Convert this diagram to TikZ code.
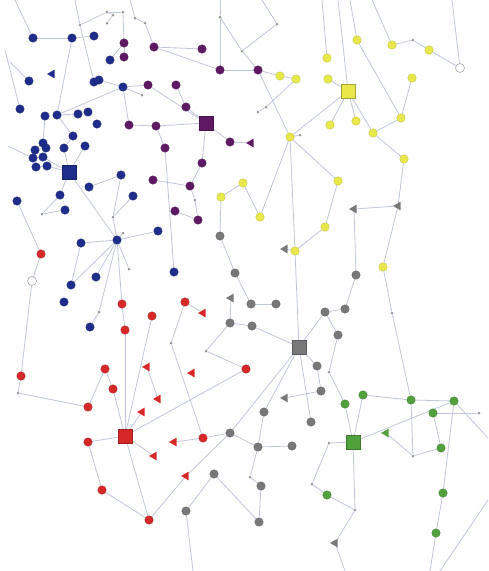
\documentclass[tikz,border=0pt]{standalone}
\usetikzlibrary{shapes.geometric}
\pgfdeclarelayer{background}
\pgfsetlayers{background,main}
\definecolor{cb}{RGB}{30,45,140}
\definecolor{cp}{RGB}{95,25,100}
\definecolor{cy}{RGB}{232,232,75}
\definecolor{cr}{RGB}{215,40,40}
\definecolor{cg}{RGB}{120,120,120}
\definecolor{cgr}{RGB}{80,160,60}
\definecolor{ce}{RGB}{192,198,218}
\tikzset{
  e/.style={draw=ce, line width=0.8pt},
  nd/.style={circle, inner sep=0pt, minimum size=8.5pt, fill=#1, draw=#1!75!black, line width=0.3pt},
  sq/.style={rectangle, inner sep=0pt, minimum size=14pt, fill=#1, draw=#1!75!black, line width=0.3pt},
  tri/.style={regular polygon, regular polygon sides=3, shape border rotate=90, inner sep=0pt, minimum size=10pt, fill=#1},
  dt/.style={circle, inner sep=0pt, minimum size=3pt, fill=gray!80},
  wh/.style={circle, inner sep=0pt, minimum size=9pt, fill=white, draw=gray!70, line width=0.6pt}
}
\begin{document}
\begin{tikzpicture}[x=1pt,y=-1pt]
\useasboundingbox (0,0) rectangle (488,571);
% blue
\foreach \n/\x/\y in {b1/33/38, b2/72/38, b3/94/36, b4/110/60, b5/29/81, b6/94/82, b7/99/80, b8/123/87, b9/20/109, b10/45/116, b11/57/115, b12/78/114, b13/88/112, b14/97/124, b15/73/136, b16/43/143, b17/64/148, b18/85/146, b19/35/150, b20/46/148, b21/43/157, b22/33/158, b23/36/167, b24/47/166, b26/121/175, b27/89/187, b28/60/195, b29/133/196, b30/17/201, b31/65/210, b32/158/231, bh/117/240, b33/81/243, b34/96/277, b35/71/285, b36/64/302, b37/90/327, b38/174/272}
  \node[nd=cb] (\n) at (\x,\y) {};
\node[sq=cb] (bs) at (69,172) {};
\node[tri=cb] (bt1) at (52,74) {};
% purple
\foreach \n/\x/\y in {p1/124/43, p2/124/57, p3/154/47, p4/148/85, p5/202/49, p6/220/70, p7/258/70, p8/176/85, p9/186/107, p10/230/142, p11/129/125, p12/156/126, p13/165/148, p14/202/163, p15/190/186, p16/175/211, p17/198/220, p18/153/180}
  \node[nd=cp] (\n) at (\x,\y) {};
\node[sq=cp] (ps) at (206,123) {};
\node[tri=cp] (pt1) at (251,143) {};
% small dots
\foreach \n/\x/\y in {d1/220/17, d2/242/51, d3/277/24, d4/266/107, d5/258/112, d6/300/135, d7/80/25, d8/107/12, d9/113/15, d10/107/23, d11/123/12, d12/135/18, d13/145/23, d14/142/95, d15/42/214, d16/113/217, d17/123/233, d18/129/269, d19/99/312, d20/195/200, d21/413/40, d22/171/343, d23/206/351, d24/250/477, d25/312/484, d26/392/313, d27/329/372, d28/18/393, d29/329/443, d30/413/456, d31/355/510, d32/479/413}
  \node[dt] (\n) at (\x,\y) {};
% yellow
\foreach \n/\x/\y in {y1/280/76, y2/296/79, y3/327/58, y4/328/79, y5/357/40, y6/392/45, y7/429/50, y8/412/78, y9/330/125, y10/356/121, y11/401/118, y12/404/159, y13/338/181, y14/243/183, y15/221/197, y16/260/217, y17/325/227, y18/295/251, y19/383/267, yt/373/133, yh/290/137}
  \node[nd=cy, draw=cy!80!black] (\n) at (\x,\y) {};
\node[sq=cy, draw=cy!70!black] (ys) at (348,91) {};
\node[wh] (w1) at (460,68) {};
\node[wh] (w2) at (32,281) {};
% gray
\foreach \n/\x/\y in {g1/220/236, g2/235/273, g3/251/304, g4/276/304, g5/230/323, g6/252/326, g7/325/312, g8/345/309, g9/338/335, g10/356/275, g11/317/366, g12/321/391, g13/264/412, g14/311/422, g15/230/433, g16/258/447, g17/292/446, g18/214/474, g19/261/486, g20/186/511, g21/259/522}
  \node[nd=cg] (\n) at (\x,\y) {};
\node[sq=cg] (gs) at (299,347) {};
\foreach \n/\x/\y in {gt1/285/249, gt2/354/209, gt3/398/206, gt4/231/298, gt5/285/398, gt6/335/543}
  \node[tri=cg] (\n) at (\x,\y) {};
% red
\foreach \n/\x/\y in {r1/41/254, r2/122/304, r3/152/316, r4/125/330, r5/185/302, r6/21/376, r7/105/369, r8/113/389, r9/88/407, r10/246/369, r11/88/442, r12/203/438, r13/102/490, r14/149/520}
  \node[nd=cr] (\n) at (\x,\y) {};
\node[sq=cr] (rs) at (125,436) {};
\foreach \n/\x/\y in {rt1/203/313, rt2/147/367, rt3/158/399, rt4/142/412, rt5/192/373, rt6/154/456, rt7/174/442, rt8/186/476}
  \node[tri=cr] (\n) at (\x,\y) {};
% green
\foreach \n/\x/\y in {gr1/345/404, gr2/363/395, gr3/411/400, gr4/454/401, gr5/433/413, gr6/441/448, gr7/443/493, gr8/436/533, gr9/327/495}
  \node[nd=cgr] (\n) at (\x,\y) {};
\node[sq=cgr] (grs) at (353,442) {};
\node[tri=cgr] (grt) at (386,433) {};
% free ends
\foreach \n/\x/\y in {T1/15/0, T2/75/0, T3/130/0, T4/220/0, T5/262/0, T6/322/0, T7/338/0, T8/350/0, T9/372/0, T10/452/0, L1/5/50, L2/10/62, L3/8/146, B1/193/571, B2/345/571, B3/430/571, B4/440/571, R1/488/500, R2/488/438}
  \coordinate (\n) at (\x,\y);
\begin{pgfonlayer}{background}
\foreach \a/\b in {b1/b2, b2/b3, b2/b11, b1/T1, d7/b6, d7/d8, d7/T2, d8/d9, d9/d10, d8/d11, d11/p1, d12/d13, d13/p3, d12/T3, b4/p1, b6/b7, b7/b8, b11/b8, b8/p4, b8/d14, b8/p11, b9/L1, b5/L2, b22/L3, b10/b16, b11/b12, b12/b13, b15/b11, b15/b17, b16/b19, b19/b20, b20/b21, b21/b22, b22/b23, b23/b24, b24/bs, b21/bs, b17/bs, b18/bs, bs/b28, bs/bh, b26/b27, b26/d16, d16/b29, b30/r1, r1/w2, w2/r6, b28/d15, d15/b31, bh/b33, bh/b32, bh/b34, bh/b35, bh/d17, bh/d18, bh/r2, bh/d16, b33/b35, b37/d19, d19/bh, b38/p13,
  p1/p2, p3/p5, p3/p6, p6/d1, d1/T4, d1/d2, d2/p7, d2/d3, d3/T5, p6/p7, p7/y1, p7/yh, p8/p9, p9/ps, ps/p4, ps/p12, ps/p10, p10/pt1, ps/p14, p14/p15, p15/d20, d20/p17, p16/p17, p13/p12, p11/p12, p18/p15,
  y1/y2, y2/d4, d4/d5, yh/d6, yh/ys, yh/y16, yh/y13, yh/y18, y16/y14, y14/y15, y15/g1, y3/T6, y4/ys, ys/T7, ys/y9, ys/y10, ys/yt, y5/T8, y5/y11, y6/T9, y6/d21, d21/y7, y7/w1, w1/T10, y8/y11, y11/yt, yt/y12, y12/gt3, gt3/gt2, gt3/y19, gt2/g10, y13/y17, y17/y18, y18/gt1, y18/gs, y19/d26, d26/gr3,
  g1/g2, g2/g3, g3/g4, gt4/g5, g5/g6, g6/gs, g5/d23, d23/r10, gs/g7, g7/g8, g7/g9, g8/g10, gs/g11, g11/g12, g12/gt5, gs/g14, gs/g13, gs/g15, g13/g16, g15/g16, g16/g17, g16/d24, d24/g19, g19/g21, g18/g21, g18/g20, g20/B1, d27/gr1, d27/g9, g15/rt8, rt8/r14,
  r2/r4, r4/rs, r3/rs, r5/rt1, r5/d22, d22/r12, r10/rs, rs/r11, r11/r13, r13/r14, rs/r14, rs/rt6, rs/rt4, rs/r8, r7/r8, r7/r9, r9/d28, d28/r6, rt2/rt3, r12/rt7, r12/g15,
  gr1/grs, gr2/grs, gr2/gr3, gr3/gr4, grs/gr4, grt/d30, gr3/d30, d30/gr6, gr5/gr6, gr5/d32, gr4/gr7, gr4/R2, grs/d31, grs/d29, d29/d25, d25/gr9, d31/gr9, d31/gt6, gt6/B2, gr7/gr8, gr8/B3, R1/B4}
  \draw[e] (\a) -- (\b);
\end{pgfonlayer}
\end{tikzpicture}
\end{document}
